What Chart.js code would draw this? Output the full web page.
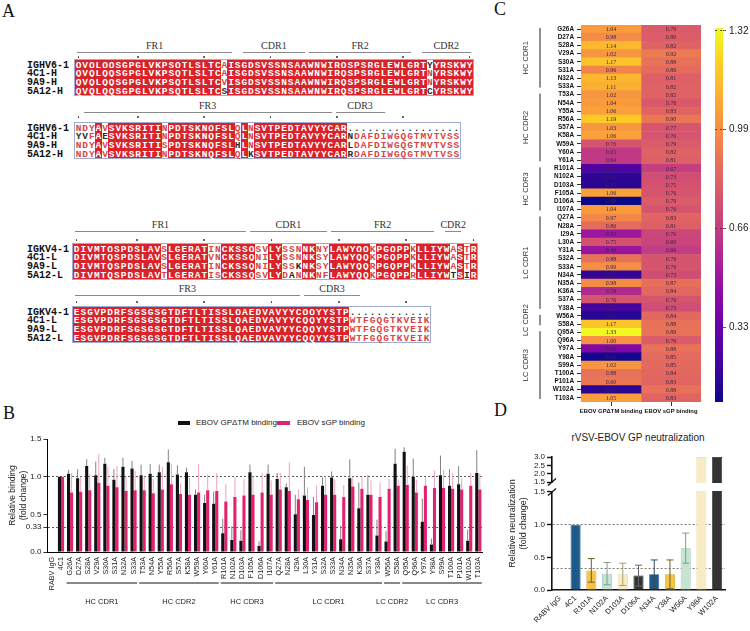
<!DOCTYPE html>
<html>
<head>
<meta charset="utf-8">
<script src="https://cdn.jsdelivr.net/npm/chart.js@4.4.1/dist/chart.umd.min.js"></script>
<style>
body{margin:0;background:#fff;width:750px;height:631px;position:relative;overflow:hidden;font-family:"Liberation Sans",Arial,sans-serif}
canvas{position:absolute}
.plab{position:absolute;font:18px/18px "Liberation Serif",serif;color:#111}
.res{position:absolute;height:8.9px;line-height:8.9px;text-align:center;font:bold 9.5px "Liberation Mono",monospace}
.nm{position:absolute;height:8.8px;line-height:8.8px;font:bold 10px "Liberation Mono",monospace;color:#111}
.dot{position:absolute;width:1.6px;height:1.6px;background:#333;border-radius:1px}
.hline{position:absolute;height:1px;background:#8a8a8a}
.htxt{position:absolute;width:60px;text-align:center;font:10px/10px "Liberation Serif",serif;color:#333}
.box{position:absolute;border:1px solid #a3aad0}
.txt{position:absolute;white-space:nowrap;color:#222}
</style>
</head>
<body>
<div id="panelA"></div>
<div class="plab" style="left:2px;top:2px">A</div>
<div class="plab" style="left:3px;top:404px">B</div>
<div class="plab" style="left:494px;top:0px">C</div>
<div class="plab" style="left:494px;top:401px">D</div>

<div style="position:absolute;left:178px;top:421px;width:12px;height:4px;background:#111"></div>
<div class="txt" id="legB1" style="left:196px;top:418px;font-size:8px"></div>
<div style="position:absolute;left:277px;top:421px;width:13px;height:4px;background:#e2226f"></div>
<div class="txt" id="legB2" style="left:297px;top:418px;font-size:8px"></div>
<div class="txt" style="left:538px;top:432px;width:200px;text-align:center;font-size:10px">rVSV-EBOV GP neutralization</div>

<canvas id="chartB" width="492" height="200" style="left:0;top:430px"></canvas>
<canvas id="chartC" width="221" height="415" style="left:480px;top:15px"></canvas>
<canvas id="chartCbar" width="50" height="415" style="left:700px;top:15px"></canvas>
<canvas id="chartD" width="260" height="206" style="left:490px;top:425px"></canvas>

<script>
// ---- panel A: alignment ----
const heavyNames = ['IGHV6-1', '4C1-H', '9A9-H', '5A12-H'];
const heavySeq1 = [
  'QVQLQQSGPGLVKPSQTLSLTCAISGDSVSSNSAAWNWIRQSPSRGLEWLGRTYYRSKWY',
  'QVQLQQSGPGLVKPSQTLSLTCAISGDSVSSNSAAWNWIRQSPSRGLEWLGRTNYRSKWY',
  'QVQLQQSGPGLVKPSQTLSLTCVISGDSVSSNSAAWNWIRQSPSRGLEWLGRTNYRSKWY',
  'QVQLQQSGPGLVKPSQTLSLTCSISGDSVSSNSAAWNWIRQSPSRGLEWLGRTCYRSKWY'
];
const heavySeq2 = [
  'NDYAVSVKSRITINPDTSKNQFSLQLNSVTPEDTAVYYCAR.................',
  'YVFAESVKSRITINPDTSKNQFSLQLNSVTPEDTAVYYCARNDAFDIWGQGTMVTVSS',
  'NDYAVSVKSRITISPDTSKNQFSLHLNSVTPEDTAVYYCARLDAFDIWGQGTMVTVSS',
  'NDYAVSVKSRITINPDTSKNQFSLQLKSVTPEDTAVYYCARRDAFDIWGQGTMVTVSS'
];
const lightNames = ['IGKV4-1', '4C1-L', '9A9-L', '5A12-L'];
const lightSeq1 = [
  'DIVMTQSPDSLAVSLGERATINCKSSQSVLYSSNNKNYLAWYQQKPGQPPKLLIYWASTR',
  'DIVMTQSPDSLAVSLGERATVNCKSSQNILYSSNNKSYLAWYQQKPGQPPKLLIYWASTR',
  'DIVMTQSPDSLAVSLGERATINCKSSQNILYSSKNKSYLAWYQQRPGQPPKLLIYWASTR',
  'DIVMTQSPDSLAVTLGERATISCKSSQSVLYDANNKNFLAWYQQKPGQPPRLLIYWTSIR'
];
const lightSeq2 = [
  'ESGVPDRFSGSGSGTDFTLTISSLQAEDVAVYYCQQYYSTP............',
  'ESGVPDRFSGSGSGTDFTLTISSLQAEDVAVYYCQQYYSTPWTFGQGTKVEIK',
  'ESGVPDRFSGSGSGTDFTLTISSLQAEDVAVYYCQQYYSTPWTFGQGTKVEIK',
  'ESGVPDRFSGSGSGTDFTLTISSLQAEDVAVYYCQQYYSTPWTFGQGTKVEIK'
];
// region label, first residue, last residue
const heavyHeads1 = [['FR1', 1, 24], ['CDR1', 26, 35], ['FR2', 36, 51], ['CDR2', 53, 60]];
const heavyHeads2 = [['FR3', 2, 39], ['CDR3', 40, 47]];
const lightHeads1 = [['FR1', 1, 26], ['CDR1', 27, 38], ['FR2', 39, 54], ['CDR2', 56, 58]];
const lightHeads2 = [['FR3', 1, 34], ['CDR3', 35, 43]];

// ---- panel B / C: alanine scan binding ----
const mutants = ['RABV IgG', '4C1',
  'G26A', 'D27A', 'S28A', 'V29A', 'S30A', 'S31A', 'N32A', 'S33A',
  'T53A', 'N54A', 'Y55A', 'R56A', 'S57A', 'K58A', 'W59A', 'Y60A', 'Y61A',
  'R101A', 'N102A', 'D103A', 'F105A', 'D106A', 'I107A',
  'Q27A', 'N28A', 'I29A', 'L30A', 'Y31A', 'S32A', 'S33A', 'N34A', 'N35A', 'K36A', 'S37A', 'Y38A',
  'W56A', 'S58A',
  'Q95A', 'Q96A', 'Y97A', 'Y98A', 'S99A', 'T100A', 'P101A', 'W102A', 'T103A'];
const gpBinding = [0, 1.00,
  1.04, 0.98, 1.14, 1.02, 1.17, 0.96, 1.13, 1.11,
  1.02, 1.04, 1.06, 1.19, 1.03, 1.06, 0.76, 0.65, 0.64,
  0.25, 0.16, 0.15, 1.06, 0.08, 1.04,
  0.97, 0.86, 0.50, 0.75, 0.49, 0.88, 0.99, 0.17, 0.98, 0.58, 0.76, 0.22,
  0.14, 1.17,
  1.33, 1.00, 0.40, 0.10, 1.02, 0.88, 0.90, 0.15, 1.05];
const gpSD = [0, 0,
  0.05, 0.12, 0.09, 0.18, 0.08, 0.14, 0.12, 0.10,
  0.14, 0.13, 0.10, 0.17, 0.12, 0.06, 0.07, 0.11, 0.16,
  0.19, 0.18, 0.14, 0.10, 0.06, 0.12,
  0.08, 0.05, 0.26, 0.38, 0.24, 0.11, 0.08, 0.18, 0.25, 0.34, 0.26, 0.21,
  0.14, 0.20,
  0.06, 0.24, 0.31, 0.08, 0.26, 0.22, 0.24, 0.15, 0.30];
const sgpBinding = [0, 1.00,
  0.79, 0.80, 0.82, 0.92, 0.88, 0.86, 0.81, 0.82,
  0.82, 0.78, 0.83, 0.90, 0.77, 0.76, 0.79, 0.82, 0.81,
  0.67, 0.73, 0.75, 0.76, 0.79, 0.76,
  0.83, 0.81, 0.70, 0.69, 0.66, 0.76, 0.76, 0.73, 0.87, 0.84, 0.76, 0.73,
  0.84, 0.88,
  0.89, 0.79, 0.88, 0.85, 0.85, 0.84, 0.83, 0.88, 0.83];
const sgpSD = [0, 0,
  0.26, 0.20, 0.21, 0.38, 0.25, 0.28, 0.19, 0.26,
  0.18, 0.19, 0.30, 0.27, 0.14, 0.22, 0.38, 0.21, 0.24,
  0.23, 0.26, 0.22, 0.24, 0.26, 0.19,
  0.22, 0.38, 0.13, 0.17, 0.22, 0.25, 0.20, 0.16, 0.13, 0.16, 0.19, 0.19,
  0.13, 0.08,
  0.26, 0.17, 0.11, 0.23, 0.24, 0.21, 0.15, 0.17, 0.21];
const seriesNames = ['EBOV GP\u0394TM binding', 'EBOV sGP binding'];
const groupNames = ['HC CDR1', 'HC CDR2', 'HC CDR3', 'LC CDR1', 'LC CDR2', 'LC CDR3'];
const groupSizes = [8, 9, 6, 12, 2, 9];
const bTicks = [0, 0.33, 0.5, 1.0, 1.5];
const refLines = [0.33, 1.0];
const barTicks = [0.33, 0.66, 0.99, 1.32];

// ---- panel D: neutralization ----
const neutLabels = ['RABV IgG', '4C1', 'R101A', 'N102A', 'D103A', 'D106A', 'N34A', 'Y38A', 'W56A', 'Y98A', 'W102A'];
const neutValues = [0, 1.00, 0.30, 0.25, 0.24, 0.22, 0.24, 0.24, 0.64, 3.0, 3.0];
const neutSD = [0, 0, 0.18, 0.17, 0.17, 0.16, 0.22, 0.22, 0.23, 0, 0];
const neutLowTicks = [0, 0.33, 0.5, 1.0, 1.5];
const neutHighTicks = [1.5, 2.0, 2.5, 3.0];
const neutColors = ['#ffffff', '#1d5a88', '#f5c346', '#c6e4d1', '#f7ecc3', '#333333', '#1d5a88', '#f5c346', '#c6e4d1', '#f7ecc3', '#333333'];
const neutEdges = ['#ffffff', '#1d5a88', '#d8a72e', '#9cc3aa', '#e3d49c', '#222222', '#1d5a88', '#d8a72e', '#9cc3aa', '#e3d49c', '#222222'];
const neutErrColors = ['#000', '#000', '#6e5e2a', '#7f9c8b', '#a89c70', '#666666', '#34495c', '#6e5e2a', '#7f9c8b', '#000', '#000'];

Chart.defaults.font.family = '"Liberation Sans", Arial, sans-serif';
Chart.defaults.color = '#222';

// alignment drawing
const panelA = document.getElementById('panelA');
const ROWH = 8.8;
const RED = '#d8232a', RED_TXT = '#d84444';
const SIMILAR = ['AVILM', 'FYW', 'STNQDE', 'KRH', 'G', 'P', 'C'];
const grp = ch => SIMILAR.findIndex(g => g.includes(ch));

function put(cls, text, css) {
  const d = document.createElement('div');
  d.className = cls;
  d.textContent = text;
  Object.assign(d.style, css);
  panelA.appendChild(d);
}

function drawAlignment(names, seqs, heads, b) {
  const n = Math.max(...seqs.map(s => s.length));
  names.forEach((nm, r) => put('nm', nm, {left: '27px', top: (b.top + r * ROWH) + 'px'}));
  put('box', '', {left: (b.x0 - 1) + 'px', top: (b.top - 1) + 'px', width: (n * b.cw) + 'px', height: (4 * ROWH) + 'px'});
  for (let c = 0; c < n; c++) {
    const col = seqs.map(s => s[c] || '.');
    const ident = col[0] !== '.' && col.every(ch => ch === col[0]);
    const counts = {};
    col.forEach(ch => { if (ch !== '.') counts[ch] = (counts[ch] || 0) + 1; });
    const best = Object.keys(counts).sort((p, q) => counts[q] - counts[p])[0];
    const cons = best && counts[best] >= 2 ? best : null;
    col.forEach((ch, r) => {
      const css = {left: (b.x0 + c * b.cw) + 'px', top: (b.top + r * ROWH) + 'px', width: (b.cw + 0.4) + 'px'};
      if (ident) { css.background = RED; css.color = '#fff'; }
      else if (ch !== '.' && cons && (ch === cons || grp(ch) === grp(cons))) css.color = RED_TXT;
      else css.color = '#2b2b2b';
      put('res', ch, css);
    });
    if (c === 0 || (c + 1) % 10 === 0) {
      put('dot', '', {left: (b.x0 + (c + 0.5) * b.cw - 0.8) + 'px', top: b.dotY + 'px'});
    }
  }
  heads.forEach(([lab, s, e]) => {
    const x1 = b.x0 + (s - 1) * b.cw + 2, x2 = b.x0 + e * b.cw - 2;
    put('hline', '', {left: x1 + 'px', top: b.lineY + 'px', width: (x2 - x1) + 'px'});
    put('htxt', lab, {left: ((x1 + x2) / 2 - 30) + 'px', top: (b.lineY - 11) + 'px'});
  });
}

drawAlignment(heavyNames, heavySeq1, heavyHeads1, {x0: 75, cw: 6.63, top: 59.6, lineY: 52, dotY: 56});
drawAlignment(heavyNames, heavySeq2, heavyHeads2, {x0: 75, cw: 6.63, top: 122.6, lineY: 112, dotY: 116});
drawAlignment(lightNames, lightSeq1, lightHeads1, {x0: 73, cw: 6.73, top: 243.6, lineY: 231, dotY: 239});
drawAlignment(lightNames, lightSeq2, lightHeads2, {x0: 73, cw: 6.73, top: 306.6, lineY: 295, dotY: 301});

document.getElementById('legB1').textContent = seriesNames[0];
document.getElementById('legB2').textContent = seriesNames[1];

// shared error bar plugin
const errorBars = {
  id: 'errorBars',
  afterDatasetsDraw(chart) {
    const ctx = chart.ctx;
    chart.data.datasets.forEach((ds, di) => {
      if (!ds.errs) return;
      const meta = chart.getDatasetMeta(di);
      const ys = chart.scales[meta.yAxisID];
      meta.data.forEach((bar, i) => {
        const v = ds.data[i], e = ds.errs[i];
        if (!e) return;
        const top = ys.getPixelForValue(v + e);
        const bot = ys.getPixelForValue(ds.errBoth ? Math.max(v - e, 0) : v);
        ctx.save();
        ctx.strokeStyle = Array.isArray(ds.errColor) ? ds.errColor[i] : ds.errColor;
        ctx.lineWidth = ds.errWidth || 1;
        ctx.beginPath();
        ctx.moveTo(bar.x, bot);
        ctx.lineTo(bar.x, top);
        if (ds.cap) {
          ctx.moveTo(bar.x - ds.cap, top); ctx.lineTo(bar.x + ds.cap, top);
          if (ds.errBoth) { ctx.moveTo(bar.x - ds.cap, bot); ctx.lineTo(bar.x + ds.cap, bot); }
        }
        ctx.stroke();
        ctx.restore();
      });
    });
  }
};

// ---- B ----
const bGroups = {
  id: 'bGroups',
  afterDraw(chart) {
    const xs = chart.scales.x, ctx = chart.ctx;
    ctx.save();
    ctx.strokeStyle = '#111'; ctx.lineWidth = 1; ctx.fillStyle = '#222';
    ctx.font = '7.5px "Liberation Sans"'; ctx.textAlign = 'center'; ctx.textBaseline = 'middle';
    let start = 2;
    groupNames.forEach((g, k) => {
      const end = start + groupSizes[k] - 1;
      const x1 = xs.getPixelForValue(start) - 3.5, x2 = xs.getPixelForValue(end) + 3.5;
      ctx.beginPath(); ctx.moveTo(x1, xs.top + 31); ctx.lineTo(x2, xs.top + 31); ctx.stroke();
      ctx.fillText(g, (x1 + x2) / 2, xs.top + 50);
      start = end + 1;
    });
    ctx.restore();
  }
};

new Chart(document.getElementById('chartB'), {
  type: 'bar',
  data: {
    labels: mutants,
    datasets: [
      {label: seriesNames[0], data: gpBinding, errs: gpSD, errColor: '#808080', backgroundColor: '#111111',
       categoryPercentage: 0.68, barPercentage: 1},
      {label: seriesNames[1], data: sgpBinding, errs: sgpSD, errColor: '#f0a2c1', backgroundColor: '#e2226f',
       categoryPercentage: 0.68, barPercentage: 1}
    ]
  },
  options: {
    responsive: false,
    animation: false,
    layout: {padding: {top: 9, right: 6, left: 0, bottom: 0}},
    plugins: {legend: {display: false}, tooltip: {enabled: false}},
    scales: {
      x: {
        grid: {display: false, drawTicks: false},
        border: {color: '#000', width: 1},
        ticks: {autoSkip: false, maxRotation: 90, minRotation: 90, padding: 5, font: {size: 7.2}, color: '#222'},
        afterFit: s => { s.height = 78; }
      },
      y: {
        min: 0, max: 1.5,
        afterBuildTicks: s => { s.ticks = bTicks.map(v => ({value: v})); },
        ticks: {autoSkip: false, callback: v => v === 0.33 ? '0.33' : v.toFixed(1), font: {size: 8}, color: '#222', padding: 2},
        grid: {
          color: c => c.tick && refLines.includes(c.tick.value) ? '#333' : 'rgba(0,0,0,0)',
          lineWidth: 0.8, tickColor: '#000', tickLength: 4
        },
        border: {color: '#000', width: 1, dash: [2, 2]},
        title: {display: true, text: ['Relative binding', '(fold change)'], font: {size: 8.5}, color: '#222', padding: {top: 8, bottom: 0}},
        afterFit: s => { s.width = 47.4; }
      }
    }
  },
  plugins: [errorBars, bGroups]
});

// ---- C: heatmap ----
const heatRows = mutants.slice(2);
const heatColumns = seriesNames;
const heatValues = [gpBinding.slice(2), sgpBinding.slice(2)];
const hMin = Math.min(...heatValues.flat()), hMax = Math.max(...heatValues.flat());
const plasmaStops = ['#0d0887', '#41049d', '#6a00a8', '#8f0da4', '#b12a90', '#cc4778', '#e16462', '#f2844b', '#fca636', '#fcce25', '#f0f921'];
function plasma(t) {
  t = Math.max(0, Math.min(1, t));
  const p = t * (plasmaStops.length - 1);
  const i = Math.min(Math.floor(p), plasmaStops.length - 2), f = p - i;
  const h = s => [1, 3, 5].map(k => parseInt(s.substr(k, 2), 16));
  const a = h(plasmaStops[i]), b = h(plasmaStops[i + 1]);
  return 'rgb(' + a.map((x, k) => Math.round(x + (b[k] - x) * f)).join(',') + ')';
}

const cellText = {
  id: 'cellText',
  afterDatasetsDraw(chart) {
    const ctx = chart.ctx;
    ctx.save();
    ctx.font = '6px "Liberation Serif"'; ctx.fillStyle = '#3a2448';
    ctx.textAlign = 'center'; ctx.textBaseline = 'middle';
    chart.data.datasets.forEach((ds, di) => {
      chart.getDatasetMeta(di).data.forEach((el, i) => {
        const p = el.getCenterPoint();
        ctx.fillText(ds.vals[i].toFixed(2), p.x, p.y + 0.5);
      });
    });
    ctx.restore();
  }
};

const heatGroups = {
  id: 'heatGroups',
  afterDraw(chart) {
    const ys = chart.scales.y, ctx = chart.ctx;
    const rh = (ys.bottom - ys.top) / heatRows.length;
    ctx.save();
    ctx.strokeStyle = '#222'; ctx.lineWidth = 1; ctx.fillStyle = '#333';
    ctx.font = '7.5px "Liberation Sans"'; ctx.textAlign = 'center'; ctx.textBaseline = 'middle';
    let start = 0;
    groupNames.forEach((g, k) => {
      const end = start + groupSizes[k] - 1;
      const y1 = ys.getPixelForValue(start) - rh / 2 + 3, y2 = ys.getPixelForValue(end) + rh / 2 - 3;
      ctx.beginPath(); ctx.moveTo(60, y1); ctx.lineTo(60, y2); ctx.stroke();
      ctx.save();
      ctx.translate(46, (y1 + y2) / 2); ctx.rotate(-Math.PI / 2);
      ctx.fillText(g, 0, 0);
      ctx.restore();
      start = end + 1;
    });
    ctx.restore();
  }
};

new Chart(document.getElementById('chartC'), {
  type: 'bar',
  data: {
    labels: heatRows,
    datasets: heatColumns.map((name, c) => ({
      label: name,
      data: heatRows.map(() => [c, c + 1]),
      vals: heatValues[c],
      backgroundColor: heatValues[c].map(v => plasma((v - hMin) / (hMax - hMin))),
      grouped: false, barPercentage: 1, categoryPercentage: 1, borderWidth: 0
    }))
  },
  options: {
    indexAxis: 'y',
    responsive: false,
    animation: false,
    layout: {padding: {top: 10, right: 0, left: 0, bottom: 0}},
    plugins: {legend: {display: false}, tooltip: {enabled: false}},
    scales: {
      x: {
        type: 'linear', min: 0, max: 2,
        afterBuildTicks: s => { s.ticks = heatColumns.map((n, c) => ({value: c + 0.5})); },
        ticks: {autoSkip: false, maxRotation: 0, callback: (v, i) => heatColumns[i], font: {size: 5.9, weight: 'bold'}, color: '#111', padding: 2},
        grid: {drawOnChartArea: false, tickLength: 4, color: '#333', tickColor: '#333'},
        border: {display: false},
        afterFit: s => { s.height = 28; }
      },
      y: {
        ticks: {autoSkip: false, font: {size: 6.4, weight: 'bold'}, color: '#111', padding: 3},
        grid: {drawOnChartArea: false, offset: false, tickLength: 4, color: '#333', tickColor: '#333'},
        border: {display: false},
        afterFit: s => { s.width = 101; }
      }
    }
  },
  plugins: [cellText, heatGroups]
});

// colour bar
new Chart(document.getElementById('chartCbar'), {
  type: 'bar',
  data: {
    labels: [''],
    datasets: [{
      data: [[hMin, hMax]],
      backgroundColor: c => {
        const a = c.chart.chartArea;
        if (!a) return '#000';
        const g = c.chart.ctx.createLinearGradient(0, a.bottom, 0, a.top);
        plasmaStops.forEach((col, k) => g.addColorStop(k / (plasmaStops.length - 1), col));
        return g;
      },
      barPercentage: 1, categoryPercentage: 1, borderWidth: 0
    }]
  },
  options: {
    responsive: false,
    animation: false,
    layout: {padding: {top: 13, bottom: 28, left: 15, right: 0}},
    plugins: {legend: {display: false}, tooltip: {enabled: false}},
    scales: {
      x: {display: false},
      y: {
        position: 'right', min: hMin, max: hMax,
        afterBuildTicks: s => { s.ticks = barTicks.map(v => ({value: v})); },
        ticks: {autoSkip: false, callback: v => v.toFixed(2), font: {size: 10}, color: '#222', padding: 3},
        grid: {color: '#333', lineWidth: 0.8, tickLength: 3, z: 1},
        border: {display: false, dash: [2, 3]},
        afterFit: s => { s.width = 27; }
      }
    }
  }
});

// ---- D: broken y axis ----
const BREAK_AT = 1.5, LOW_FRAC = 0.737, GAP_FRAC = 0.075;
class BrokenScale extends Chart.LinearScale {
  lowerPixel(v) {
    const h = this.bottom - this.top;
    return this.bottom - (v - this.min) / (BREAK_AT - this.min) * h * LOW_FRAC;
  }
  upperPixel(v) {
    const h = this.bottom - this.top;
    const base = this.bottom - h * (LOW_FRAC + GAP_FRAC);
    return base - (v - BREAK_AT) / (this.max - BREAK_AT) * (base - this.top);
  }
  getPixelForValue(v) {
    if (v === null || v === undefined || isNaN(v)) return NaN;
    return v <= BREAK_AT ? this.lowerPixel(v) : this.upperPixel(v);
  }
  getPixelForTick(i) {
    const t = this.ticks[i];
    if (!t) return null;
    return t.upper ? this.upperPixel(t.value) : this.getPixelForValue(t.value);
  }
  getValueForPixel(p) {
    const h = this.bottom - this.top;
    const lowTop = this.bottom - h * LOW_FRAC;
    if (p >= lowTop) return this.min + (this.bottom - p) / (h * LOW_FRAC) * (BREAK_AT - this.min);
    const base = this.bottom - h * (LOW_FRAC + GAP_FRAC);
    return BREAK_AT + (base - p) / (base - this.top) * (this.max - BREAK_AT);
  }
}
BrokenScale.id = 'brokenY';
Chart.register(BrokenScale);

const axisBreak = {
  id: 'axisBreak',
  afterDatasetsDraw(chart) {
    const ys = chart.scales.y, a = chart.chartArea, ctx = chart.ctx;
    const yLow = ys.lowerPixel(BREAK_AT), yUp = ys.upperPixel(BREAK_AT);
    ctx.save();
    ctx.fillStyle = '#fff';
    ctx.fillRect(a.left - 2, yUp + 1, a.right - a.left + 3, yLow - yUp - 2);
    ctx.strokeStyle = '#111'; ctx.lineWidth = 1.3;
    [yUp, yLow].forEach(yy => {
      ctx.beginPath(); ctx.moveTo(a.left - 4, yy + 3.5); ctx.lineTo(a.left + 4, yy - 3.5); ctx.stroke();
    });
    ctx.restore();
  }
};

new Chart(document.getElementById('chartD'), {
  type: 'bar',
  data: {
    labels: neutLabels,
    datasets: [{
      data: neutValues, errs: neutSD, errBoth: true, cap: 3.5, errColor: neutErrColors,
      backgroundColor: neutColors, borderColor: neutEdges, borderWidth: 0.8,
      barPercentage: 1, categoryPercentage: 0.64
    }]
  },
  options: {
    responsive: false,
    animation: false,
    layout: {padding: {top: 32, right: 25, left: 0, bottom: 0}},
    plugins: {legend: {display: false}, tooltip: {enabled: false}},
    scales: {
      x: {
        grid: {display: false, drawTicks: false},
        border: {color: '#111', width: 1.6},
        ticks: {autoSkip: false, minRotation: 45, maxRotation: 45, padding: 4, font: {size: 7.5}, color: '#222'},
        afterFit: s => { s.height = 41; }
      },
      y: {
        type: 'brokenY', min: 0, max: 3,
        afterBuildTicks: s => {
          s.ticks = neutLowTicks.map(v => ({value: v})).concat(neutHighTicks.map(v => ({value: v, upper: true})));
        },
        ticks: {autoSkip: false, callback: v => v === 0.33 ? '' : v.toFixed(1), font: {size: 8}, color: '#222', padding: 2},
        grid: {
          color: c => c.tick && !c.tick.upper && refLines.includes(c.tick.value) ? '#555' : 'rgba(0,0,0,0)',
          tickColor: c => c.tick && c.tick.value === 0.33 ? 'rgba(0,0,0,0)' : '#111',
          lineWidth: 0.8, tickWidth: 1.4, tickLength: 5
        },
        border: {color: '#111', width: 1.6, dash: [2, 2]},
        title: {display: true, text: ['Relative neutralization', '(fold change)'], font: {size: 9}, color: '#222', padding: {top: 17.6, bottom: 0}},
        afterFit: s => { s.width = 62; }
      }
    }
  },
  plugins: [errorBars, axisBreak]
});
</script>
</body>
</html>
